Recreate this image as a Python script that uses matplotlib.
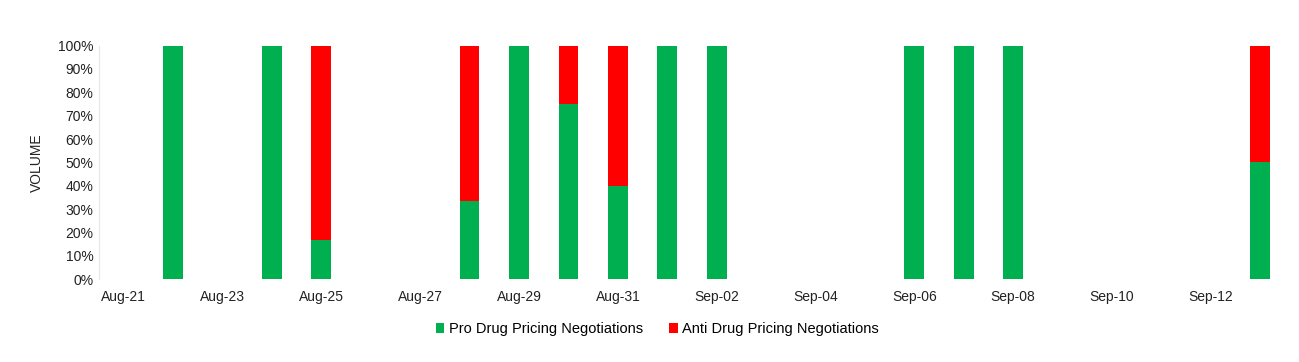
import matplotlib.pyplot as plt
import numpy as np
from matplotlib.ticker import PercentFormatter

plt.rcParams['font.family'] = ['Liberation Sans', 'DejaVu Sans']

days = ['Aug-21', 'Aug-22', 'Aug-23', 'Aug-24', 'Aug-25', 'Aug-26', 'Aug-27', 'Aug-28',
        'Aug-29', 'Aug-30', 'Aug-31', 'Sep-01', 'Sep-02', 'Sep-03', 'Sep-04', 'Sep-05',
        'Sep-06', 'Sep-07', 'Sep-08', 'Sep-09', 'Sep-10', 'Sep-11', 'Sep-12', 'Sep-13']
pro = [0, 100, 0, 100, 16.7, 0, 0, 33.3, 100, 75, 40, 100, 100, 0, 0, 0,
       100, 100, 100, 0, 0, 0, 0, 50]
anti = [0, 0, 0, 0, 83.3, 0, 0, 66.7, 0, 25, 60, 0, 0, 0, 0, 0,
        0, 0, 0, 0, 0, 0, 0, 50]

green = '#00b050'
red = '#ff0000'

fig = plt.figure(figsize=(12.99, 3.62), dpi=100)
ax = fig.add_axes([0.0762, 0.229, 0.913, 0.645])

x = np.arange(len(days))
ax.bar(x, pro, width=0.4, color=green, label='Pro Drug Pricing Negotiations')
ax.bar(x, anti, width=0.4, bottom=pro, color=red, label='Anti Drug Pricing Negotiations')

ax.set_xlim(-0.5, len(days) - 0.5)
ax.set_ylim(0, 100)
ax.set_yticks(np.arange(0, 101, 10))
ax.yaxis.set_major_formatter(PercentFormatter(decimals=0))
ax.set_xticks(x[::2])
ax.set_xticklabels(days[::2])
ax.tick_params(length=0, labelsize=10, colors='#222222')
ax.tick_params(axis='x', pad=8)
ax.tick_params(axis='y', pad=4)

for s in ['top', 'right', 'bottom']:
    ax.spines[s].set_visible(False)
ax.spines['left'].set_color('#e6e6e6')

ax.set_ylabel('VOLUME', fontsize=10, color='#222222', labelpad=10)

fig.legend(loc='center', bbox_to_anchor=(0.506, 0.091), ncol=2, frameon=False,
           fontsize=10.5, handlelength=0.6, handleheight=0.6, handletextpad=0.3,
           columnspacing=1.8)

fig.savefig('out.png', dpi=100)
